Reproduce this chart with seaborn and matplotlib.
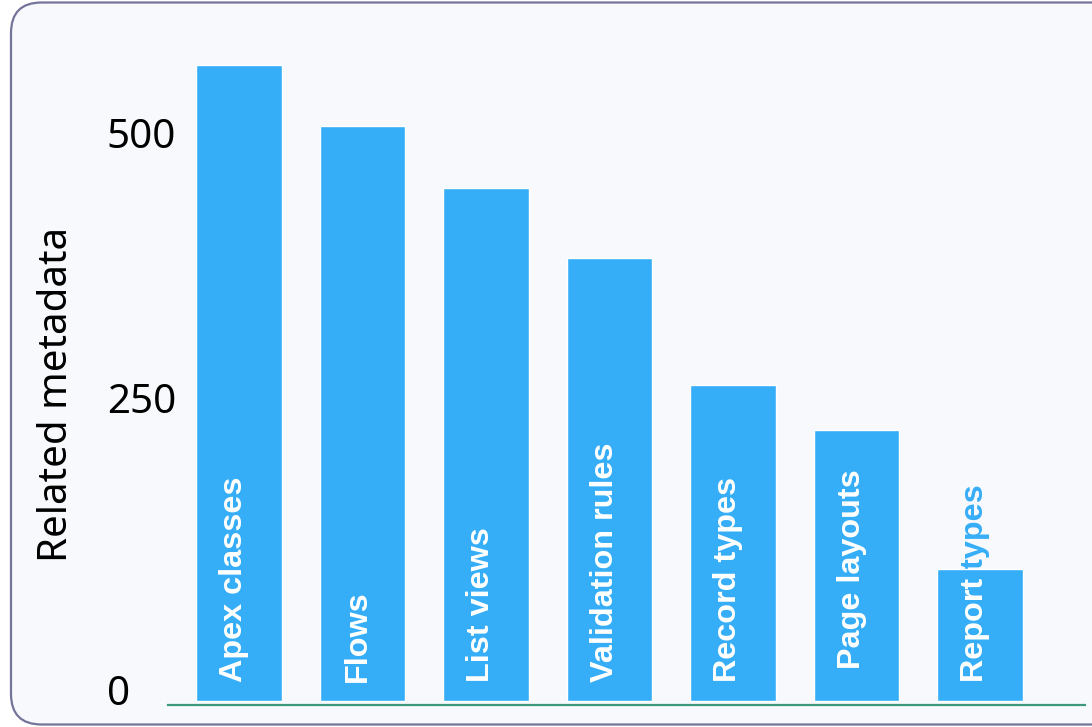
import matplotlib
matplotlib.use("Agg")
import matplotlib.pyplot as plt
import matplotlib.transforms as mtransforms
from matplotlib.patches import FancyBboxPatch
import seaborn as sns

categories = ["Apex classes", "Flows", "List views", "Validation rules",
              "Record types", "Page layouts", "Report types"]
values = [560, 506, 452, 390, 278, 239, 116]
tick_values = [0, 250, 500]
tick_labels = ["0", "250", "500"]

BAR = "#36AEF7"
sns.set_theme(style="white")
plt.rcParams["font.family"] = ["Noto Sans", "DejaVu Sans"]

fig = plt.figure(figsize=(10.92, 7.27), dpi=100, facecolor="white")

# slide frame
frame = FancyBboxPatch((11 / 1092, 2.5 / 727), 1.1, 1 - 5 / 727,
                       boxstyle="round,pad=0,rounding_size=0.028",
                       transform=fig.transFigure, facecolor="#F8F9FD",
                       edgecolor="#74749A", linewidth=1.6, zorder=-5,
                       mutation_aspect=1092 / 727)
fig.patches.append(frame)

ax = fig.add_axes([168 / 1092, 1 - 705 / 727, (1085 - 168) / 1092, (705 - 19.4) / 727])
ax.set_facecolor("none")
ax.set_zorder(2)

sns.barplot(x=categories, y=values, color=BAR, saturation=1, width=0.69,
            ax=ax, zorder=2)
ax.set_xlim(-0.575, 6.85)
ax.set_ylim(-3.5, 600)

for s in ["left", "top", "right"]:
    ax.spines[s].set_visible(False)
ax.spines["bottom"].set_color("#3E9A7A")
ax.spines["bottom"].set_linewidth(1.6)
ax.spines["bottom"].set_zorder(3)
ax.set_xticks([])
ax.set_xlabel("")
ax.set_ylabel("")

ax.set_yticks(tick_values)
ax.set_yticklabels(tick_labels)
ax.tick_params(axis="y", length=0, pad=44, labelsize=29, labelcolor="black")
offsets = {"0": 11, "250": 19, "500": 0}
for lab in ax.get_yticklabels():
    lab.set_horizontalalignment("left")
    dy = offsets.get(lab.get_text(), 0)
    lab.set_transform(lab.get_transform() +
                      mtransforms.ScaledTranslation(0, dy / 100, fig.dpi_scale_trans))

fig.text(57 / 1092, 1 - 394 / 727, "Related metadata", rotation=90,
         ha="center", va="center", fontsize=29, color="black", zorder=3)

# bar labels: white inside bar, bar colour outside
label_lift = {"Page layouts": 11}
bars = ax.patches
for cat, p in zip(categories, bars):
    xc = p.get_x() + p.get_width() / 2 - 0.04
    y0 = 17 + label_lift.get(cat, 0)
    kw = dict(rotation=90, ha="center", va="bottom", fontsize=23.3,
              fontweight="bold", family=["Liberation Sans", "DejaVu Sans"])
    ax.text(xc, y0, cat, color=BAR, zorder=1, **kw)
    t_in = ax.text(xc, y0, cat, color="white", zorder=4, clip_on=True, **kw)
    t_in.set_clip_path(p)

fig.savefig("out.png", dpi=100, facecolor="white")
